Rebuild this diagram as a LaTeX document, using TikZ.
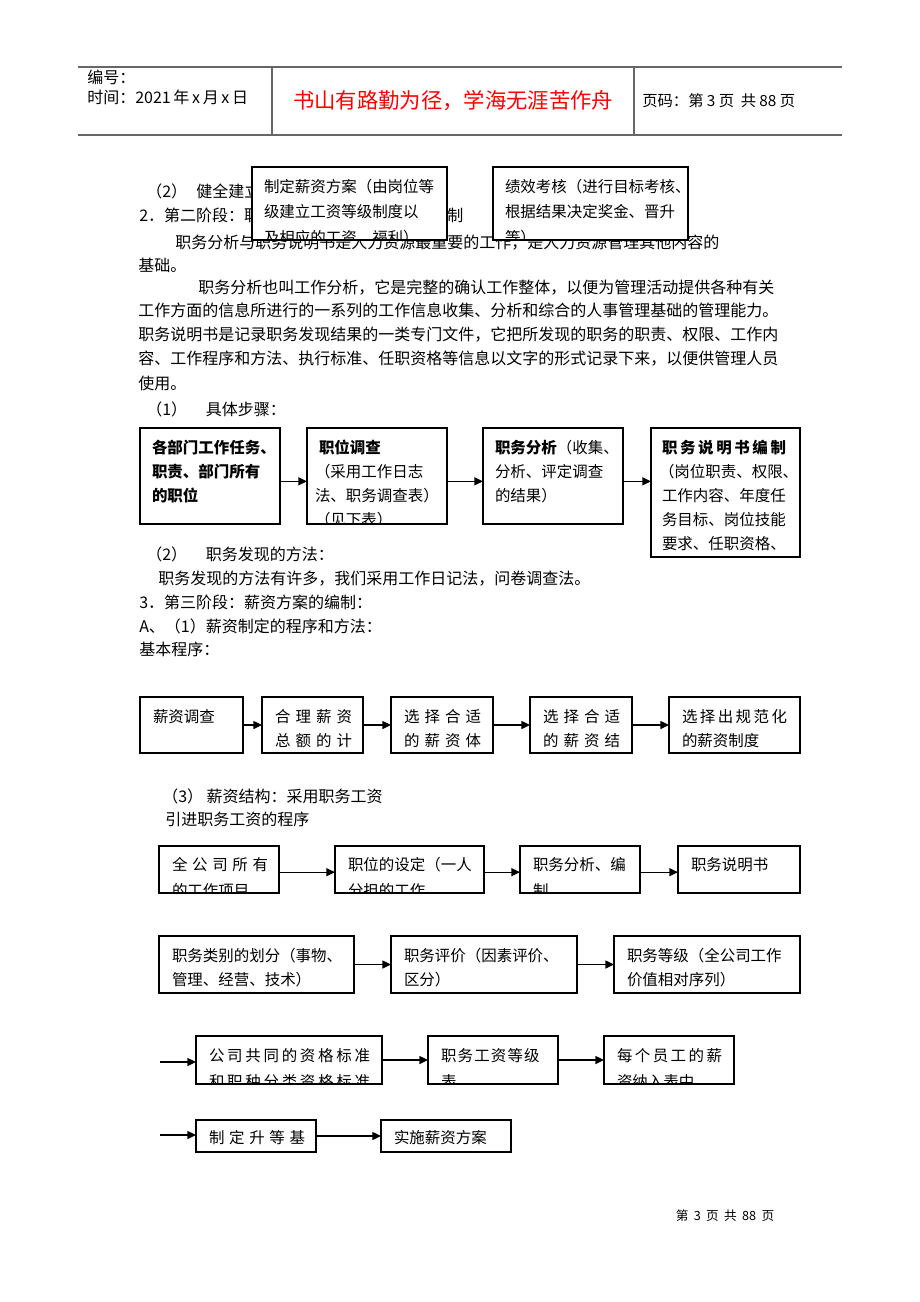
\documentclass[tikz,border=0pt]{standalone}
\usepackage{fontspec}
\setmainfont{Noto Sans CJK SC}
\usetikzlibrary{arrows.meta}
\newcounter{tn}
\ExplSyntaxOn
\NewDocumentCommand\spr{mm}{\hbox to #1{\tl_map_inline:nn{#2}{##1\hfil}\unskip}}
\ExplSyntaxOff
\newcommand\bl[3]{\stepcounter{tn}\node[btxt] (n\arabic{tn}) at ([shift={(#1,#2)}]path picture bounding box.north west) {#3};}
\newcommand\ptx[3]{\stepcounter{tn}\node[txt] (n\arabic{tn}) at (#1,#2) {#3};}
\newcommand\cbox[6]{\node[bx, anchor=north west, minimum width={(#4-#2)*0.75pt}, minimum height={(#5-#3)*0.75pt}, path picture={#6}] (#1) at (#2,#3) {};}
\begin{document}
\begin{tikzpicture}[x=0.75pt, y=-0.75pt,
  txt/.style={anchor=base west, inner sep=0pt, font=\fontsize{12}{14}\selectfont},
  btxt/.style={anchor=base west, inner sep=0pt, outer sep=0pt, minimum width=0pt, minimum height=0pt, draw=none, fill=none, font=\fontsize{11.6}{14}\selectfont},
  bx/.style={draw, line width=0.9pt, fill=white, inner sep=0pt, outer sep=0pt},
  arr/.style={line width=1pt, -{Triangle[length=6.5pt,width=6pt]}},
  hl/.style={draw=black!60, line width=0.9pt}]
\useasboundingbox (0,0) rectangle (920,1302);
\fill[white] (0,0) rectangle (920,1302);

% header
\draw[hl] (78,67) -- (842,67);
\draw[hl] (78,135) -- (842,135);
\draw[hl] (272,67) -- (272,135);
\draw[hl] (634,67) -- (634,135);
\ptx{87}{84}{编号：}
\ptx{87}{104}{时间：2021\,年\,x\,月\,x\,日}
\node[anchor=center, inner sep=0pt, text=red, font=\fontsize{16}{18}\selectfont] (title) at (453,101) {书山有路勤为径，学海无涯苦作舟};
\node[anchor=base west, inner sep=0pt, font=\fontsize{11.5}{14}\selectfont] (pg) at (642,107) {页码：第\hspace{2.5pt}3\hspace{2.5pt}页\hspace{5pt}共\hspace{2.5pt}88\hspace{2.5pt}页};

% body text
\ptx{146}{197}{（2）\hspace{7pt}健全建立}
\ptx{139}{221}{2．第二阶段：职}
\ptx{447}{221}{制}
\ptx{175}{248}{职务分析与职务说明书是人力资源最重要的工作，是人力资源管理其他内容的}
\ptx{138}{271}{基础。}
\ptx{198}{293}{职务分析也叫工作分析，它是完整的确认工作整体，以便为管理活动提供各种有关}
\ptx{138}{316}{工作方面的信息所进行的一系列的工作信息收集、分析和综合的人事管理基础的管理能力。}
\ptx{138}{340}{职务说明书是记录职务发现结果的一类专门文件，它把所发现的职务的职责、权限、工作内}
\ptx{138}{364}{容、工作程序和方法、执行标准、任职资格等信息以文字的形式记录下来，以便供管理人员}
\ptx{138}{389}{使用。}
\ptx{146}{415}{（1）\hspace{14pt}具体步骤：}
\ptx{146}{560}{（2）\hspace{14pt}职务发现的方法：}
\ptx{158}{584}{职务发现的方法有许多，我们采用工作日记法，问卷调查法。}
\ptx{139}{608}{3．第三阶段：薪资方案的编制：}
\ptx{139}{632}{A、（1）薪资制定的程序和方法：}
\ptx{139}{655}{基本程序：}
\ptx{162}{802}{（3） 薪资结构：采用职务工资}
\ptx{165}{825}{引进职务工资的程序}

% top boxes
\cbox{k1}{252}{167}{447}{240}{\bl{12}{25}{制定薪资方案（由岗位等}\bl{12}{50}{级建立工资等级制度以}\bl{12}{76}{及相应的工资、福利）}}
\cbox{k2}{493}{167}{688}{240}{\bl{12}{25}{绩效考核（进行目标考核、}\bl{12}{50}{根据结果决定奖金、晋升}\bl{12}{76}{等）}}

% row B
\cbox{b1}{140}{428}{280}{524}{\bl{12}{25}{\bfseries 各部门工作任务、}\bl{12}{49}{\bfseries 职责、部门所有}\bl{12}{73}{\bfseries 的职位}}
\cbox{b2}{307}{428}{447}{524}{\bl{12}{25}{\bfseries 职位调查}\bl{8}{49}{（采用工作日志}\bl{8}{73}{法、职务调查表）}\bl{8}{97}{（见下表）}}
\cbox{b3}{483}{428}{623}{524}{\bl{12}{25}{\textbf{职务分析}（收集、}\bl{12}{49}{分析、评定调查}\bl{12}{73}{的结果）}}
\cbox{b4}{651}{428}{800}{557}{\bl{11}{25}{\bfseries\spr{93pt}{职务说明书编制}}\bl{8}{49}{（岗位职责、权限、}\bl{11}{73}{工作内容、年度任}\bl{11}{97}{务目标、岗位技能}\bl{11}{121}{要求、任职资格、}}
\coordinate (a1) at ([yshift=-4pt]b1.east);
\coordinate (a2) at ([yshift=-4pt]b2.east);
\coordinate (a3) at ([yshift=-4pt]b3.east);
\draw[arr] (a1) -- (a1 -| b2.west);
\draw[arr] (a2) -- (a2 -| b3.west);
\draw[arr] (a3) -- (a3 -| b4.west);

% row C
\cbox{c1}{140}{697}{243}{753}{\bl{13}{25}{薪资调查}}
\cbox{c2}{262}{697}{363}{753}{\bl{13}{25}{\spr{57.75pt}{合理薪资}}\bl{13}{49}{\spr{57.75pt}{总额的计}}}
\cbox{c3}{391}{697}{493}{753}{\bl{13}{25}{\spr{57.75pt}{选择合适}}\bl{13}{49}{\spr{57.75pt}{的薪资体}}}
\cbox{c4}{530}{697}{632}{753}{\bl{13}{25}{\spr{57.75pt}{选择合适}}\bl{13}{49}{\spr{57.75pt}{的薪资结}}}
\cbox{c5}{669}{697}{800}{753}{\bl{13}{25}{\spr{78.75pt}{选择出规范化}}\bl{13}{49}{的薪资制度}}
\draw[arr] (c1) -- (c2);
\draw[arr] (c2) -- (c3);
\draw[arr] (c3) -- (c4);
\draw[arr] (c4) -- (c5);

% row D
\cbox{d1}{159}{846}{279}{893}{\bl{13}{24}{\spr{72pt}{全公司所有}}\bl{13}{50}{的工作项目}}
\cbox{d2}{335}{846}{484}{893}{\bl{13}{24}{职位的设定（一人}\bl{13}{50}{分担的工作}}
\cbox{d3}{520}{846}{640}{893}{\bl{13}{24}{职务分析、编}\bl{13}{50}{制}}
\cbox{d4}{678}{846}{800}{893}{\bl{13}{24}{职务说明书}}
\coordinate (dd1) at ([yshift=-2pt]d1.east);
\coordinate (dd2) at ([yshift=-2pt]d2.east);
\coordinate (dd3) at ([yshift=-2pt]d3.east);
\draw[arr] (dd1) -- (dd1 -| d2.west);
\draw[arr] (dd2) -- (dd2 -| d3.west);
\draw[arr] (dd3) -- (dd3 -| d4.west);

% row E
\cbox{e1}{159}{936}{354}{993}{\bl{13}{25}{职务类别的划分（事物、}\bl{13}{49}{管理、经营、技术）}}
\cbox{e2}{391}{936}{577}{993}{\bl{13}{25}{职务评价（因素评价、}\bl{13}{49}{区分）}}
\cbox{e3}{614}{936}{800}{993}{\bl{13}{25}{职务等级（全公司工作}\bl{13}{49}{价值相对序列）}}
\draw[arr] (e1) -- (e2);
\draw[arr] (e2) -- (e3);

% row F
\coordinate (fin1) at (160,1062);
\cbox{f1}{196}{1036}{382}{1084}{\bl{13}{25}{\spr{120.75pt}{公司共同的资格标准}}\bl{13}{51}{\spr{120.75pt}{和职种分类资格标准}}}
\cbox{f2}{428}{1036}{558}{1084}{\bl{13}{25}{\spr{74pt}{职务工资等级}}\bl{13}{51}{表}}
\cbox{f3}{604}{1036}{734}{1084}{\bl{13}{25}{\spr{78.75pt}{每个员工的薪}}\bl{13}{51}{资纳入表中}}
\draw[arr] (fin1) -- (fin1 -| f1.west);
\draw[arr] (f1) -- (f2);
\draw[arr] (f2) -- (f3);

% row G
\coordinate (fin2) at (160,1135);
\cbox{g1}{196}{1120}{316}{1152}{\bl{13}{23}{\spr{72pt}{制定升等基}}}
\cbox{g2}{381}{1120}{511}{1152}{\bl{13}{23}{实施薪资方案}}
\draw[arr] (fin2) -- (fin2 -| g1.west);
\draw[arr] (g1) -- (g2);

% footer
\node[anchor=center, inner sep=0pt, font=\fontsize{9.5}{12}\selectfont] (foot) at (725,1216) {第\hspace{4pt}3\hspace{4pt}页\hspace{4pt}共\hspace{4pt}88\hspace{4pt}页};
\end{tikzpicture}
\end{document}
